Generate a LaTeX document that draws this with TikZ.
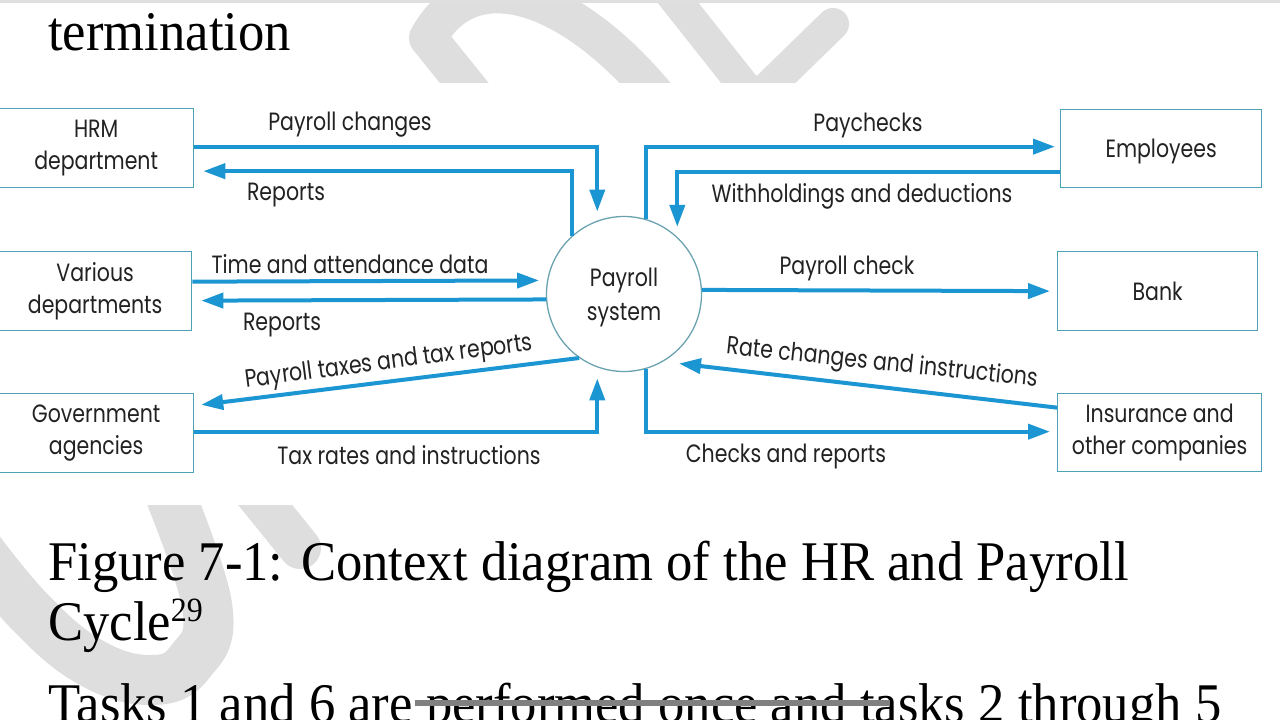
\documentclass[tikz,border=0pt]{standalone}
\usepackage{fontspec}
\setmainfont[FakeStretch=0.94]{Liberation Serif}
\newfontfamily\diag[FakeStretch=0.82]{Poppins}
\usetikzlibrary{arrows.meta,calc}
\definecolor{flowblue}{HTML}{1C96D2}
\definecolor{boxline}{HTML}{4DA2B6}
\definecolor{circline}{HTML}{6AA2B0}
\definecolor{wm}{HTML}{DEDEDE}
\definecolor{ink}{HTML}{222222}
\begin{document}
\begin{tikzpicture}[x=1pt,y=-1pt,
  entity/.style={draw=boxline, line width=1.3pt, fill=white, anchor=north west,
    inner sep=0pt, align=center, font=\diag\fontsize{25}{32}\selectfont, text=ink},
  proc/.style={draw=circline, line width=1.3pt, fill=white, circle, minimum size=155pt,
    inner sep=0pt, align=center, font=\diag\fontsize{25}{32}\selectfont, text=ink},
  flow/.style={draw=flowblue, line width=4pt, -{Triangle[length=22pt,width=15pt]}},
  lbl/.style={font=\diag\fontsize{25}{30}\selectfont, text=ink, inner sep=0pt},
  slide/.style={font=\fontsize{56}{62}\selectfont, anchor=base west, inner sep=0pt, text=black},
  wmband/.style={draw=wm, line width=38pt, line cap=round, line join=round}
]
\useasboundingbox (0,0) rectangle (1280,720);
\fill[white] (0,0) rectangle (1280,720);
% watermark
\draw[wmband] (478,100) -- (428,38) .. controls (470,-40) and (570,-10) .. (660,100);
\draw[wmband, line width=32pt] (660,-20) -- (755,100) -- (833,24);
\draw[wmband, line width=50pt] plot[smooth, tension=0.7] coordinates {(160,470) (207,605) (190,662) (150,680) (90,662) (30,612) (-25,545)};
\draw[wmband, line width=42pt] (245,480) -- (300,548);
\fill[gray!25] (0,0) rectangle (1280,3);
% slide text
\node[slide] (t1) at (48,50) {termination};
\node[slide] (t2) at (48,580) {Figure 7-1: Context diagram of the HR and Payroll};
\node[slide] (t3) at (48,640) {Cycle\raisebox{19pt}{\fontsize{34}{34}\selectfont 29}};
\node[slide] (t4) at (48,722) {Tasks 1 and 6 are performed once and tasks 2 through 5};
\fill[black!50] (415,700) rectangle (890,706);
% diagram panel
\fill[white] (0,83) rectangle (1280,505);
% entities
\node[entity, minimum width=195pt, minimum height=79pt] (hrm) at (-2,108) {HRM\\department};
\node[entity, minimum width=193pt, minimum height=79pt] (var) at (-2,251) {Various\\departments};
\node[entity, minimum width=195pt, minimum height=79pt] (gov) at (-2,393) {Government\\agencies};
\node[entity, minimum width=201pt, minimum height=78pt] (emp) at (1060,109) {\raisebox{-3pt}[\height][\depth]{Employees}};
\node[entity, minimum width=200pt, minimum height=79pt] (bank) at (1057,251) {Bank};
\node[entity, minimum width=204pt, minimum height=78pt] (ins) at (1057,393) {Insurance and\\other companies};
\node[proc] (ps) at (624,294) {\raisebox{-3pt}[\height][\depth]{\begin{tabular}{@{}c@{}}Payroll\\[2pt]system\end{tabular}}};
% flows
\draw[flow, shorten >=9pt] ($(hrm.east)+(0,-1.5)$) -| (ps.110);
\draw[flow, shorten >=9pt] (ps.132.5) |- ($(hrm.east)+(0,23)$);
\draw[flow, shorten >=8pt] ($(var.east)+(0,-9.5)$) -- (ps.170);
\draw[flow, shorten >=9pt] (ps.184.5) -- ($(var.east)+(0,9.5)$);
\draw[flow, shorten >=7pt] (ps.235.5) -- ($(gov.east)+(0,-27.5)$);
\draw[flow, shorten >=11pt] ($(gov.east)+(0,-1.5)$) -| (ps.250.3);
\draw[flow, shorten >=5pt] (ps.74) |- ($(emp.west)+(0,-2)$);
\draw[flow, shorten >=10pt] ($(emp.west)+(0,23)$) -| (ps.47.5);
\draw[flow, shorten >=7pt] (ps.3) -- (bank.west);
\draw[flow, shorten >=16pt] ($(ins.west)+(0,-25)$) -- (ps.-60.7);
\draw[flow, shorten >=7pt] (ps.-74) |- ($(ins.west)+(0,-1)$);
% labels
\node[lbl] (l1) at (350,125) {Payroll changes};
\node[lbl] (l2) at (286,195) {Reports};
\node[lbl] (l3) at (350,264) {Time and attendance data};
\node[lbl] (l4) at (282,325) {Reports};
\node[lbl, rotate=7.5] (l5) at (389,363) {Payroll taxes and tax reports};
\node[lbl] (l6) at (409,455) {Tax rates and instructions};
\node[lbl] (l7) at (868,125) {Paychecks};
\node[lbl] (l8) at (862,196) {Withholdings and deductions};
\node[lbl] (l9) at (847,268) {Payroll check};
\node[lbl, rotate=-6] (l10) at (882,364) {Rate changes and instructions};
\node[lbl] (l11) at (786,456) {Checks and reports};
\end{tikzpicture}
\end{document}
